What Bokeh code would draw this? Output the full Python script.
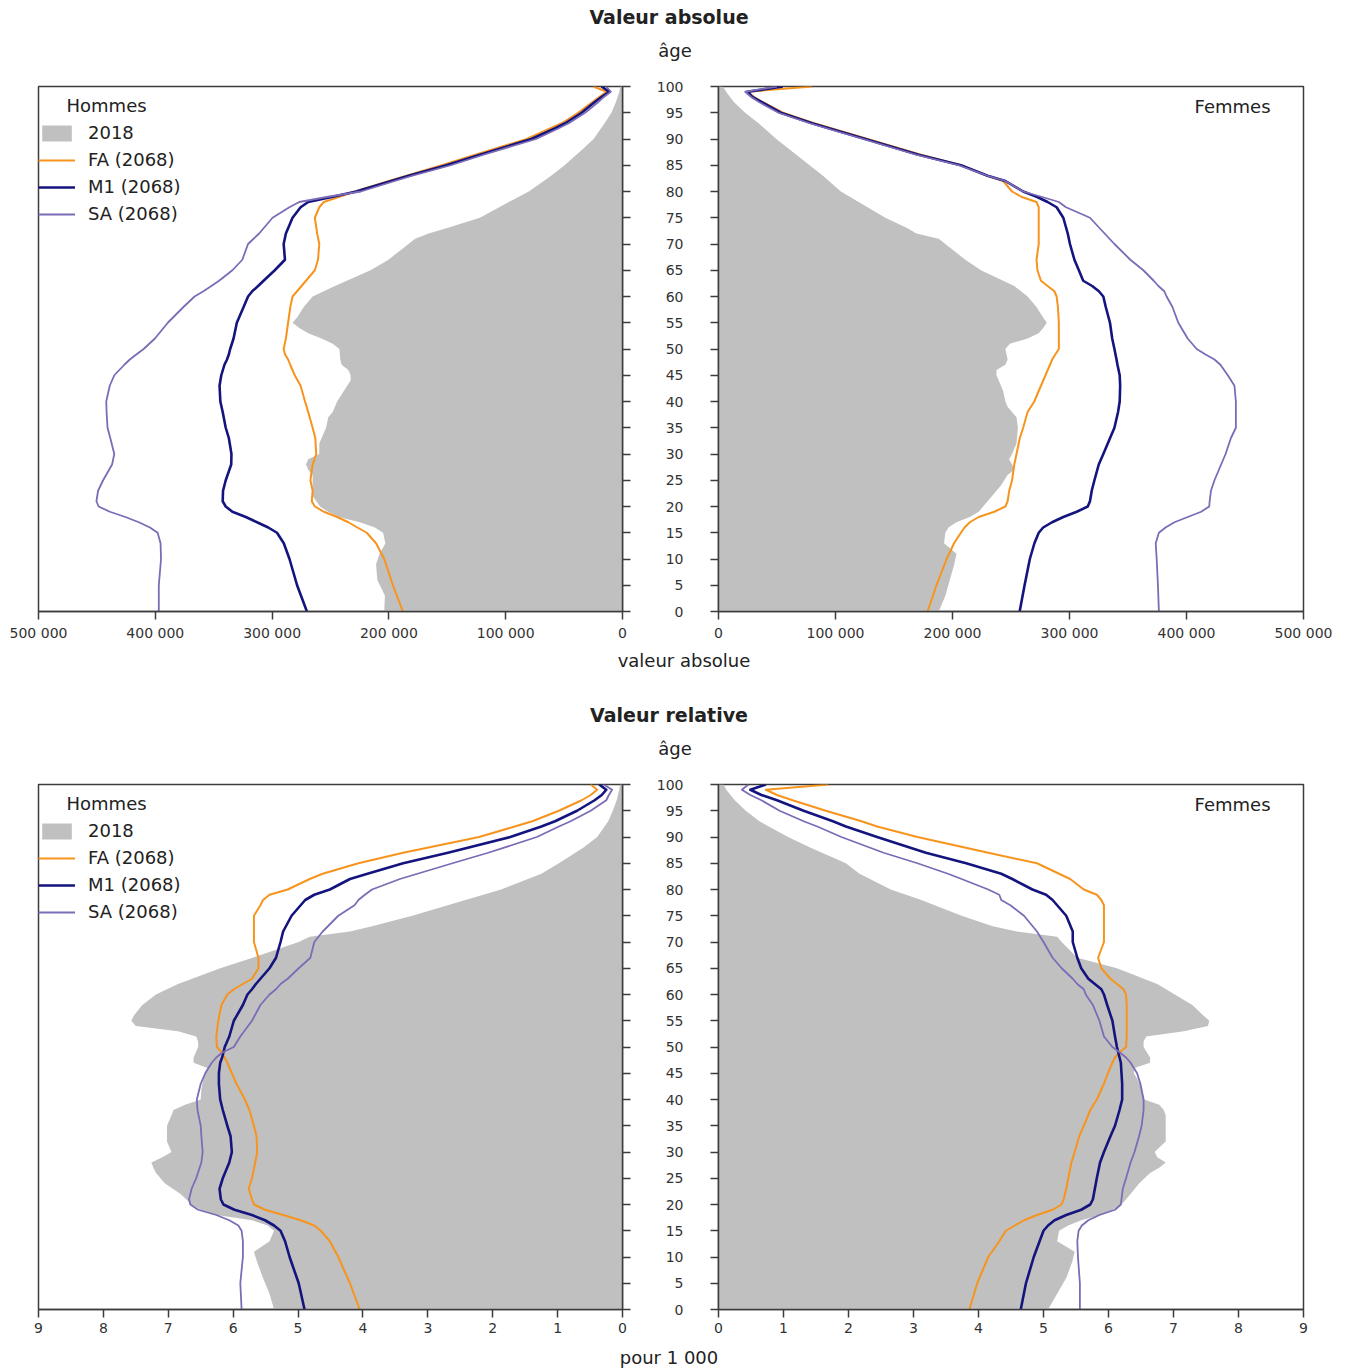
from bokeh.plotting import figure
from bokeh.models import (Range1d, FixedTicker, Legend, LegendItem, Label, Div)
from bokeh.layouts import row, column
from bokeh.embed import file_html
from bokeh.resources import INLINE

# ---------------- data ----------------
AGES = [0, 5, 10, 13, 15, 16, 17, 18, 19, 20, 21, 23, 25, 28, 30, 33, 35, 38, 40, 43, 45, 47, 48, 49,
        50, 52, 55, 58, 60, 61, 62, 63, 65, 67, 70, 72, 75, 77, 78, 79, 80, 82, 83, 85, 87, 90, 92,
        93, 95, 97, 98, 99, 100]
GRAY_AGES = [0, 3, 6, 9, 11, 13, 15, 16, 17, 18, 19, 20, 22, 24, 26, 27, 28, 29, 30, 32, 35, 37, 38,
             39, 40, 42, 44, 45, 46, 47, 48, 50, 51, 52, 53, 54, 55, 56, 58, 60, 62, 65, 67, 70, 71,
             72, 73, 75, 78, 80, 83, 85, 88, 90, 93, 95, 97, 99, 100]
AGE_TICKS = list(range(0, 101, 5))
AGE_LABELS = [str(a) for a in AGE_TICKS]

# Valeur absolue - Hommes
H_ABS_2018 = [204000, 203400, 209900, 211000, 208000, 203000, 205000, 212000, 225000, 243000, 252000,
              259000, 265300, 265300, 265300, 269100, 271000, 269100, 259600, 259600, 253800, 251900,
              248100, 246200, 244300, 238600, 232800, 232800, 234700, 240500, 241600, 242400, 248100,
              257700, 269100, 276700, 282500, 278600, 272900, 265300, 246200, 215700, 200400, 183200,
              177500, 166000, 150800, 122100, 97300, 80200, 61100, 49600, 34400, 24800, 15300, 9500,
              5700, 2700, 1900]
H_ABS_FA = [188000, 196600, 204000, 211000, 219000, 227000, 234700, 244300, 255700, 263400, 266000,
            265300, 267200, 265300, 262200, 263000, 265300, 269100, 271800, 275600, 280600, 284500,
            286300, 289000, 290100, 288200, 286300, 284400, 282500, 278600, 274800, 271000, 263400,
            260700, 259600, 261400, 263400, 259600, 255700, 242400, 229000, 200000, 185000, 154600,
            126000, 82000, 62000, 52000, 38000, 26000, 20000, 13500, 25000]
H_ABS_M1 = [270200, 278600, 285100, 290000, 295800, 303300, 312900, 322500, 334000, 339700, 342300,
            342000, 339700, 335000, 334800, 337000, 339700, 342300, 344300, 345000, 343500, 340800,
            338600, 337000, 335900, 333000, 330200, 324400, 320600, 317000, 312000, 307300, 297700,
            289000, 290100, 288200, 282500, 275600, 269100, 248000, 228000, 198000, 183000, 150800,
            122000, 78000, 58000, 49000, 35000, 24000, 18000, 11500, 18000]
H_ABS_SA = [397000, 397000, 395100, 395500, 398000, 404600, 414100, 425600, 438900, 448500, 450400,
            449000, 444700, 437000, 435100, 438500, 440900, 441700, 442000, 439000, 435100, 426500,
            421800, 416000, 410000, 400300, 389300, 375900, 366400, 358800, 352000, 345400, 334000,
            325500, 320600, 311100, 299600, 285200, 276700, 252000, 224000, 195000, 180000, 147000,
            119000, 74000, 55000, 46000, 32000, 21000, 16000, 10000, 14000]

# Valeur absolue - Femmes
F_ABS_2018 = [188200, 193900, 197700, 201500, 203400, 192800, 193900, 196600, 203400, 214800, 222400,
              226200, 233800, 241400, 247100, 252800, 250900, 248300, 250900, 254700, 255900, 254700,
              250900, 247100, 245200, 243300, 239500, 237600, 237600, 245200, 247100, 245200, 249000,
              264200, 273700, 277500, 280600, 277500, 271800, 264200, 252800, 224300, 211000, 193900,
              188200, 169200, 161600, 142600, 119800, 104600, 89300, 77900, 60800, 49400, 34200, 22800,
              13300, 6500, 3800]
F_ABS_FA = [178700, 186300, 195000, 201300, 207200, 210300, 214800, 222400, 235700, 245200, 247100,
            248500, 250900, 252800, 254700, 257500, 260400, 264200, 269900, 275600, 279500, 283300,
            285200, 288000, 290900, 290900, 290900, 290100, 289000, 287100, 281300, 275600, 272600,
            271800, 273700, 273700, 273700, 273700, 271800, 258700, 250900, 243300, 230000, 207200,
            173000, 127400, 97100, 81700, 55100, 38000, 30400, 25000, 80000]
F_ABS_M1 = [257400, 261600, 266100, 270000, 273700, 277500, 285100, 294700, 306200, 315600, 317500,
            319000, 321300, 325000, 328900, 334600, 338400, 341500, 342900, 343300, 342900, 341000,
            340200, 339300, 338400, 336500, 334600, 331000, 328900, 325100, 319400, 311700, 308000,
            304200, 300400, 298500, 294700, 289000, 281300, 272000, 260400, 245200, 230000, 207200,
            171000, 125500, 95000, 80000, 53200, 37000, 29000, 25000, 55000]
F_ABS_SA = [376400, 375600, 374500, 373700, 376400, 382100, 389700, 401100, 412500, 419400, 419800,
            420900, 423900, 429600, 433400, 437900, 442200, 442200, 442200, 441000, 435300, 429000,
            423900, 416000, 408700, 401000, 393000, 388000, 383000, 381000, 376000, 372000, 363100,
            352000, 338400, 330000, 317500, 297000, 290900, 276000, 260400, 245200, 230000, 205300,
            169000, 123600, 93000, 78000, 51300, 35000, 28000, 22800, 50000]

# Valeur relative (pour 1 000) - Hommes
H_REL_2018 = [5.37, 5.44, 5.54, 5.63, 5.68, 5.44, 5.37, 5.47, 5.71, 6.26, 6.50, 6.64, 6.81, 7.05, 7.19,
              7.23, 7.26, 7.09, 6.95, 7.02, 7.02, 6.95, 6.92, 6.74, 6.50, 6.49, 6.46, 6.44, 6.40, 6.61,
              6.61, 6.54, 6.54, 6.57, 6.85, 7.50, 7.57, 7.53, 7.40, 7.19, 6.85, 6.20, 5.70, 4.99, 4.82,
              4.20, 3.86, 3.24, 2.42, 1.87, 1.25, 0.98, 0.60, 0.39, 0.22, 0.15, 0.09, 0.05, 0.04]
H_REL_FA = [4.05, 4.20, 4.38, 4.51, 4.65, 4.75, 4.96, 5.23, 5.51, 5.68, 5.71, 5.76, 5.71, 5.66, 5.63,
            5.64, 5.68, 5.75, 5.82, 5.95, 6.02, 6.09, 6.13, 6.18, 6.25, 6.26, 6.23, 6.18, 6.09, 5.99,
            5.85, 5.71, 5.61, 5.61, 5.68, 5.68, 5.68, 5.58, 5.54, 5.44, 5.16, 4.82, 4.62, 4.07, 3.38,
            2.21, 1.66, 1.39, 0.98, 0.63, 0.49, 0.39, 0.49]
H_REL_M1 = [4.90, 4.99, 5.13, 5.20, 5.27, 5.37, 5.51, 5.71, 5.98, 6.15, 6.19, 6.21, 6.16, 6.06, 6.02,
            6.04, 6.09, 6.16, 6.20, 6.22, 6.22, 6.20, 6.17, 6.15, 6.13, 6.06, 5.99, 5.85, 5.78, 5.71,
            5.65, 5.58, 5.44, 5.34, 5.27, 5.23, 5.10, 4.96, 4.89, 4.75, 4.51, 4.20, 3.93, 3.38, 2.69,
            1.73, 1.25, 1.04, 0.70, 0.43, 0.32, 0.25, 0.36]
H_REL_SA = [5.87, 5.89, 5.85, 5.85, 5.87, 5.92, 6.06, 6.26, 6.54, 6.66, 6.68, 6.64, 6.57, 6.49, 6.47,
            6.49, 6.50, 6.55, 6.56, 6.50, 6.43, 6.33, 6.26, 6.16, 5.99, 5.89, 5.71, 5.58, 5.44, 5.34,
            5.27, 5.16, 4.99, 4.81, 4.75, 4.62, 4.38, 4.13, 4.07, 3.97, 3.86, 3.43, 3.16, 2.62, 2.07,
            1.32, 0.98, 0.80, 0.49, 0.25, 0.21, 0.16, 0.29]

# Valeur relative (pour 1 000) - Femmes
F_REL_2018 = [5.07, 5.21, 5.35, 5.44, 5.48, 5.21, 5.24, 5.38, 5.58, 5.89, 6.06, 6.20, 6.34, 6.47, 6.64,
              6.78, 6.88, 6.75, 6.71, 6.88, 6.88, 6.88, 6.85, 6.78, 6.55, 6.51, 6.44, 6.39, 6.40, 6.64,
              6.64, 6.54, 6.54, 6.58, 7.16, 7.53, 7.55, 7.46, 7.29, 7.02, 6.75, 6.13, 5.52, 5.28, 5.21,
              4.59, 4.22, 3.74, 3.12, 2.65, 2.17, 1.96, 1.41, 1.07, 0.63, 0.42, 0.25, 0.12, 0.08]
F_REL_FA = [3.86, 3.98, 4.15, 4.32, 4.42, 4.56, 4.70, 4.90, 5.14, 5.28, 5.31, 5.35, 5.38, 5.43, 5.48,
            5.55, 5.62, 5.72, 5.82, 5.93, 5.99, 6.06, 6.10, 6.17, 6.27, 6.28, 6.28, 6.28, 6.27, 6.23,
            6.13, 6.03, 5.89, 5.84, 5.93, 5.93, 5.93, 5.93, 5.89, 5.82, 5.62, 5.41, 5.24, 4.90, 4.15,
            3.06, 2.44, 2.20, 1.65, 1.14, 0.90, 0.73, 1.69]
F_REL_M1 = [4.65, 4.73, 4.85, 4.94, 5.00, 5.07, 5.17, 5.35, 5.58, 5.72, 5.76, 5.79, 5.82, 5.87, 5.93,
            6.03, 6.10, 6.17, 6.21, 6.21, 6.20, 6.19, 6.17, 6.15, 6.13, 6.10, 6.06, 5.98, 5.93, 5.89,
            5.79, 5.69, 5.58, 5.52, 5.45, 5.45, 5.35, 5.21, 5.14, 5.04, 4.83, 4.52, 4.35, 3.81, 3.19,
            2.44, 1.96, 1.76, 1.31, 0.90, 0.66, 0.49, 0.73]
F_REL_SA = [5.56, 5.56, 5.53, 5.52, 5.54, 5.59, 5.69, 5.86, 6.10, 6.19, 6.20, 6.22, 6.27, 6.34, 6.40,
            6.47, 6.51, 6.54, 6.54, 6.49, 6.44, 6.34, 6.27, 6.17, 6.06, 5.93, 5.86, 5.76, 5.65, 5.62,
            5.52, 5.45, 5.28, 5.14, 5.00, 4.90, 4.70, 4.49, 4.35, 4.32, 4.15, 3.74, 3.53, 3.06, 2.54,
            1.89, 1.52, 1.31, 0.94, 0.66, 0.49, 0.36, 0.46]

ABS_TICKS = [0, 100000, 200000, 300000, 400000, 500000]
ABS_LABELS = ["0", "100 000", "200 000", "300 000", "400 000", "500 000"]
REL_TICKS = list(range(0, 10))
REL_LABELS = [str(t) for t in REL_TICKS]
SERIES = ["2018", "FA (2068)", "M1 (2068)", "SA (2068)"]

# ---------------- style ----------------
FONT = "DejaVu Sans"
C_GRAY = "#C0C0C0"
C_FA = "#F7941D"
C_M1 = "#14147E"
C_SA = "#7C6BB6"
C_FRAME = "#3C3C3C"
TXT = "#222222"

H_ROW = 575


def style_axis(ax):
    ax.major_tick_out = 8
    ax.major_tick_in = 0
    ax.minor_tick_line_color = None
    ax.axis_line_color = C_FRAME
    ax.axis_line_width = 1.5
    ax.major_tick_line_color = C_FRAME
    ax.major_tick_line_width = 1.5
    ax.major_label_text_font = FONT
    ax.major_label_text_font_size = "14px"
    ax.major_label_text_color = "#333333"


def panel(side, xmax, ticks, labels, gray, fa, m1, sa):
    left = side == "left"
    p = figure(width=636 if left else 702, height=H_ROW, output_backend="svg",
               toolbar_location=None,
               x_range=Range1d(xmax, 0) if left else Range1d(0, xmax),
               y_range=Range1d(0, 100),
               y_axis_location="right" if left else "left",
               min_border_left=38 if left else 82, min_border_right=14 if left else 35,
               min_border_top=16, min_border_bottom=34)
    p.xgrid.visible = False
    p.ygrid.visible = False
    p.outline_line_color = C_FRAME
    p.outline_line_width = 1.5
    p.background_fill_color = "white"
    p.border_fill_color = "white"

    xa = p.xaxis[0]
    style_axis(xa)
    xa.ticker = FixedTicker(ticks=ticks)
    xa.major_label_overrides = {t: l for t, l in zip(ticks, labels)}
    xa.major_label_standoff = 5

    ya = p.yaxis[0]
    style_axis(ya)
    ya.ticker = FixedTicker(ticks=AGE_TICKS)
    if left:
        ya.major_label_overrides = {t: "" for t in AGE_TICKS}
        ya.major_label_standoff = 0
    else:
        # the age scale shown between the two pyramids
        ya.major_label_overrides = {t: l for t, l in zip(AGE_TICKS, AGE_LABELS)}
        ya.major_label_standoff = 27

    r_g = p.harea(x1=0, x2=gray, y=GRAY_AGES, fill_color=C_GRAY, fill_alpha=1.0)
    r_fa = p.line(fa, AGES, line_color=C_FA, line_width=2.0, line_join="round")
    r_m1 = p.line(m1, AGES, line_color=C_M1, line_width=2.6, line_join="round")
    r_sa = p.line(sa, AGES, line_color=C_SA, line_width=1.8, line_join="round")

    if left:
        p.add_layout(Label(x=xmax * 0.952, y=96.4, text="Hommes", text_align="left",
                           text_baseline="middle", text_font=FONT, text_font_size="18px",
                           text_color=TXT))
        leg = Legend(items=[LegendItem(label=SERIES[0], renderers=[r_g]),
                            LegendItem(label=SERIES[1], renderers=[r_fa]),
                            LegendItem(label=SERIES[2], renderers=[r_m1]),
                            LegendItem(label=SERIES[3], renderers=[r_sa])],
                     location=(0, 387), orientation="vertical",
                     background_fill_alpha=0, border_line_color=None,
                     label_text_font=FONT, label_text_font_size="18px", label_text_color=TXT,
                     glyph_width=37, glyph_height=20, label_height=20, label_standoff=13,
                     spacing=6, padding=10, margin=0)
        p.add_layout(leg)
    else:
        p.add_layout(Label(x=xmax * 0.9436, y=96.2, text="Femmes", text_align="right",
                           text_baseline="middle", text_font=FONT, text_font_size="18px",
                           text_color=TXT))
    return p


def header(title, h, title_top, age_top):
    html = (f'<div style="position:relative;width:1338px;height:{h}px;margin:0;'
            f'font-family:\'{FONT}\';color:{TXT}">'
            f'<div style="position:absolute;left:0;top:{title_top}px;width:1338px;line-height:20px;'
            f'text-align:center;font-size:19px;font-weight:bold">{title}</div>'
            f'<div style="position:absolute;left:640px;top:{age_top}px;width:70px;line-height:20px;'
            f'text-align:center;font-size:18px">âge</div></div>')
    return Div(text=html, width=1338, height=h, margin=0)


def caption(txt, h, lh, pad_left=0):
    html = (f'<div style="width:1338px;height:{h}px;text-align:center;font-family:\'{FONT}\';'
            f'font-size:18px;line-height:{lh}px;color:{TXT};padding-left:{pad_left}px;'
            f'box-sizing:border-box;margin:0;overflow:hidden">{txt}</div>')
    return Div(text=html, width=1338, height=h, margin=0)


row1 = row([panel("left", 500000, ABS_TICKS, ABS_LABELS, H_ABS_2018, H_ABS_FA, H_ABS_M1, H_ABS_SA),
            panel("right", 500000, ABS_TICKS, ABS_LABELS, F_ABS_2018, F_ABS_FA, F_ABS_M1, F_ABS_SA)],
           spacing=0)
row2 = row([panel("left", 9, REL_TICKS, REL_LABELS, H_REL_2018, H_REL_FA, H_REL_M1, H_REL_SA),
            panel("right", 9, REL_TICKS, REL_LABELS, F_REL_2018, F_REL_FA, F_REL_M1, F_REL_SA)],
           spacing=0)

page = column([header("Valeur absolue", 70, 7, 41), row1,
               caption("valeur absolue", 40, 32, pad_left=30),
               header("Valeur relative", 83, 20, 54), row2,
               caption("pour 1 000", 27, 30)], spacing=0)

open("out.html", "w").write(file_html(page, INLINE))
